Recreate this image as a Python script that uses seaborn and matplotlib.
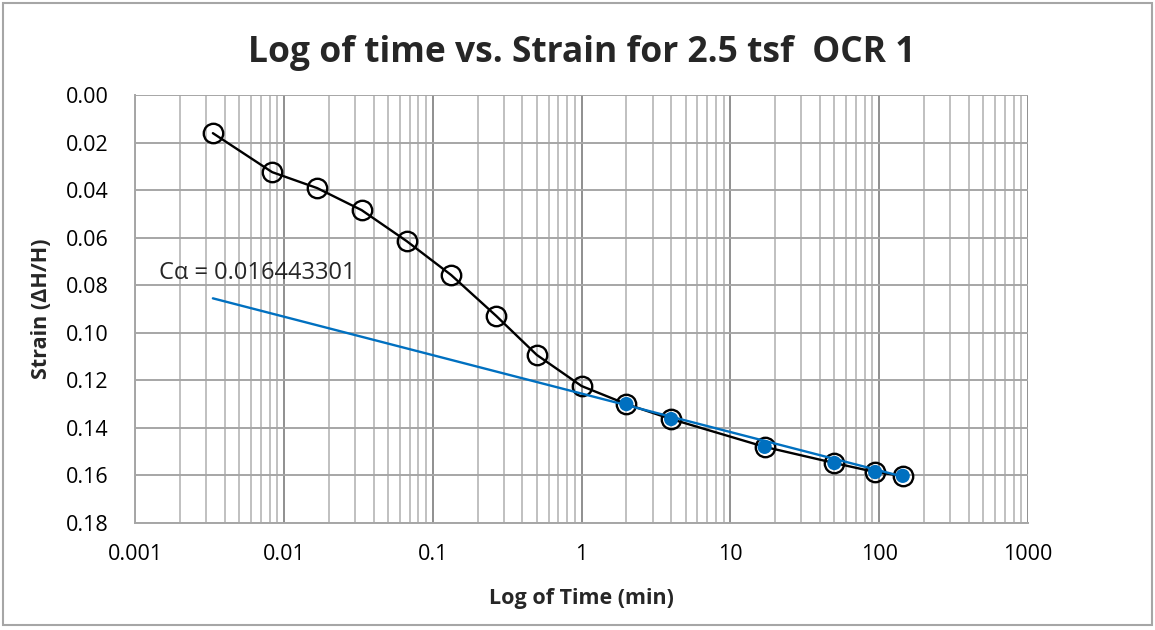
import numpy as np
import pandas as pd
import matplotlib
matplotlib.use("Agg")
import matplotlib.pyplot as plt
import seaborn as sns
from matplotlib.ticker import LogLocator, FixedLocator, FuncFormatter
from matplotlib.patches import Rectangle

# data
time_min = [0.00333, 0.00833, 0.0167, 0.0333, 0.0667, 0.133, 0.267, 0.5,
            1.0, 2.0, 4.0, 17.0, 50.0, 94.0, 144.0]
strain = [0.016, 0.0324, 0.0391, 0.0484, 0.0614, 0.0757, 0.0929, 0.1093,
          0.1224, 0.130, 0.1363, 0.148, 0.1548, 0.1586, 0.1602]
# points used for the secondary compression fit (blue)
fit_time = [2.0, 4.0, 17.0, 50.0, 94.0, 144.0]
fit_strain = [0.130, 0.1363, 0.148, 0.1548, 0.1586, 0.1602]
# trend line ends
trend_time = [0.00333, 144.0]
trend_strain = [0.0855, 0.1605]
c_alpha_text = "C\u03b1 = 0.016443301"

x_ticks = [0.001, 0.01, 0.1, 1, 10, 100, 1000]
y_ticks = [0.00, 0.02, 0.04, 0.06, 0.08, 0.10, 0.12, 0.14, 0.16, 0.18]

BLUE = "#0070C0"


def main():
    sns.set_style("white")
    plt.rcParams["font.family"] = ["Open Sans", "DejaVu Sans"]

    df = pd.DataFrame({"time": time_min, "strain": strain})
    df_fit = pd.DataFrame({"time": fit_time, "strain": fit_strain})
    df_trend = pd.DataFrame({"time": trend_time, "strain": trend_strain})

    fig = plt.figure(figsize=(11.55, 6.3), dpi=100)
    ax = fig.add_axes([0.117, 0.170, 0.773, 0.679])

    ax.set_xscale("log")
    ax.set_xlim(0.001, 1000)
    ax.set_ylim(0.18, 0.0)

    # gridlines (excel style)
    ax.xaxis.set_major_locator(FixedLocator(x_ticks))
    ax.xaxis.set_minor_locator(LogLocator(base=10, subs=np.arange(2, 10)))
    ax.yaxis.set_major_locator(FixedLocator(y_ticks))
    ax.grid(True, which="major", axis="x", color="#8f8f8f", lw=1.4)
    ax.grid(True, which="minor", axis="x", color="#c0c0c0", lw=1.4)
    ax.grid(True, which="major", axis="y", color="#a6a6a6", lw=1.4)
    ax.set_axisbelow(True)

    sns.lineplot(data=df, x="time", y="strain", ax=ax, color="black", lw=1.7,
                 marker="o", markersize=14, markerfacecolor="none",
                 markeredgecolor="black", markeredgewidth=1.7, zorder=3)
    sns.lineplot(data=df_trend, x="time", y="strain", ax=ax, color=BLUE,
                 lw=1.7, zorder=4)
    sns.scatterplot(data=df_fit, x="time", y="strain", ax=ax, color=BLUE,
                    s=105, edgecolor="none", zorder=5)

    ax.xaxis.set_major_formatter(FuncFormatter(lambda v, p: f"{v:g}"))
    ax.xaxis.set_minor_formatter(FuncFormatter(lambda v, p: ""))
    ax.yaxis.set_major_formatter(FuncFormatter(lambda v, p: f"{v:.2f}"))
    ax.tick_params(axis="both", which="both", length=0, labelsize=15.5,
                   colors="black")
    ax.tick_params(axis="x", pad=15)
    ax.tick_params(axis="y", pad=19)

    for side in ["top", "right"]:
        ax.spines[side].set_visible(False)
    for side in ["left", "bottom"]:
        ax.spines[side].set_color("#a6a6a6")
        ax.spines[side].set_linewidth(1.4)

    ax.set_xlabel("Log of Time (min)", fontsize=15.5, fontweight="bold")
    ax.set_ylabel("Strain (\u0394H/H)", fontsize=15.5, fontweight="bold")
    ax.xaxis.set_label_coords(0.5, -0.152)
    ax.yaxis.set_label_coords(-0.093, 0.5)
    ax.set_title("Log of time vs. Strain for 2.5 tsf  OCR 1", fontsize=25.5,
                 fontweight="bold", pad=24)

    ax.text(0.00145, 0.0749, c_alpha_text, fontsize=17, ha="left",
            va="center")

    # chart area border
    fig.patches.append(Rectangle((0.003, 0.008), 0.994, 0.987,
                                 transform=fig.transFigure, fill=False,
                                 edgecolor="#a6a6a6", lw=1.5))

    fig.savefig("out.png", dpi=100)


if __name__ == "__main__":
    main()
